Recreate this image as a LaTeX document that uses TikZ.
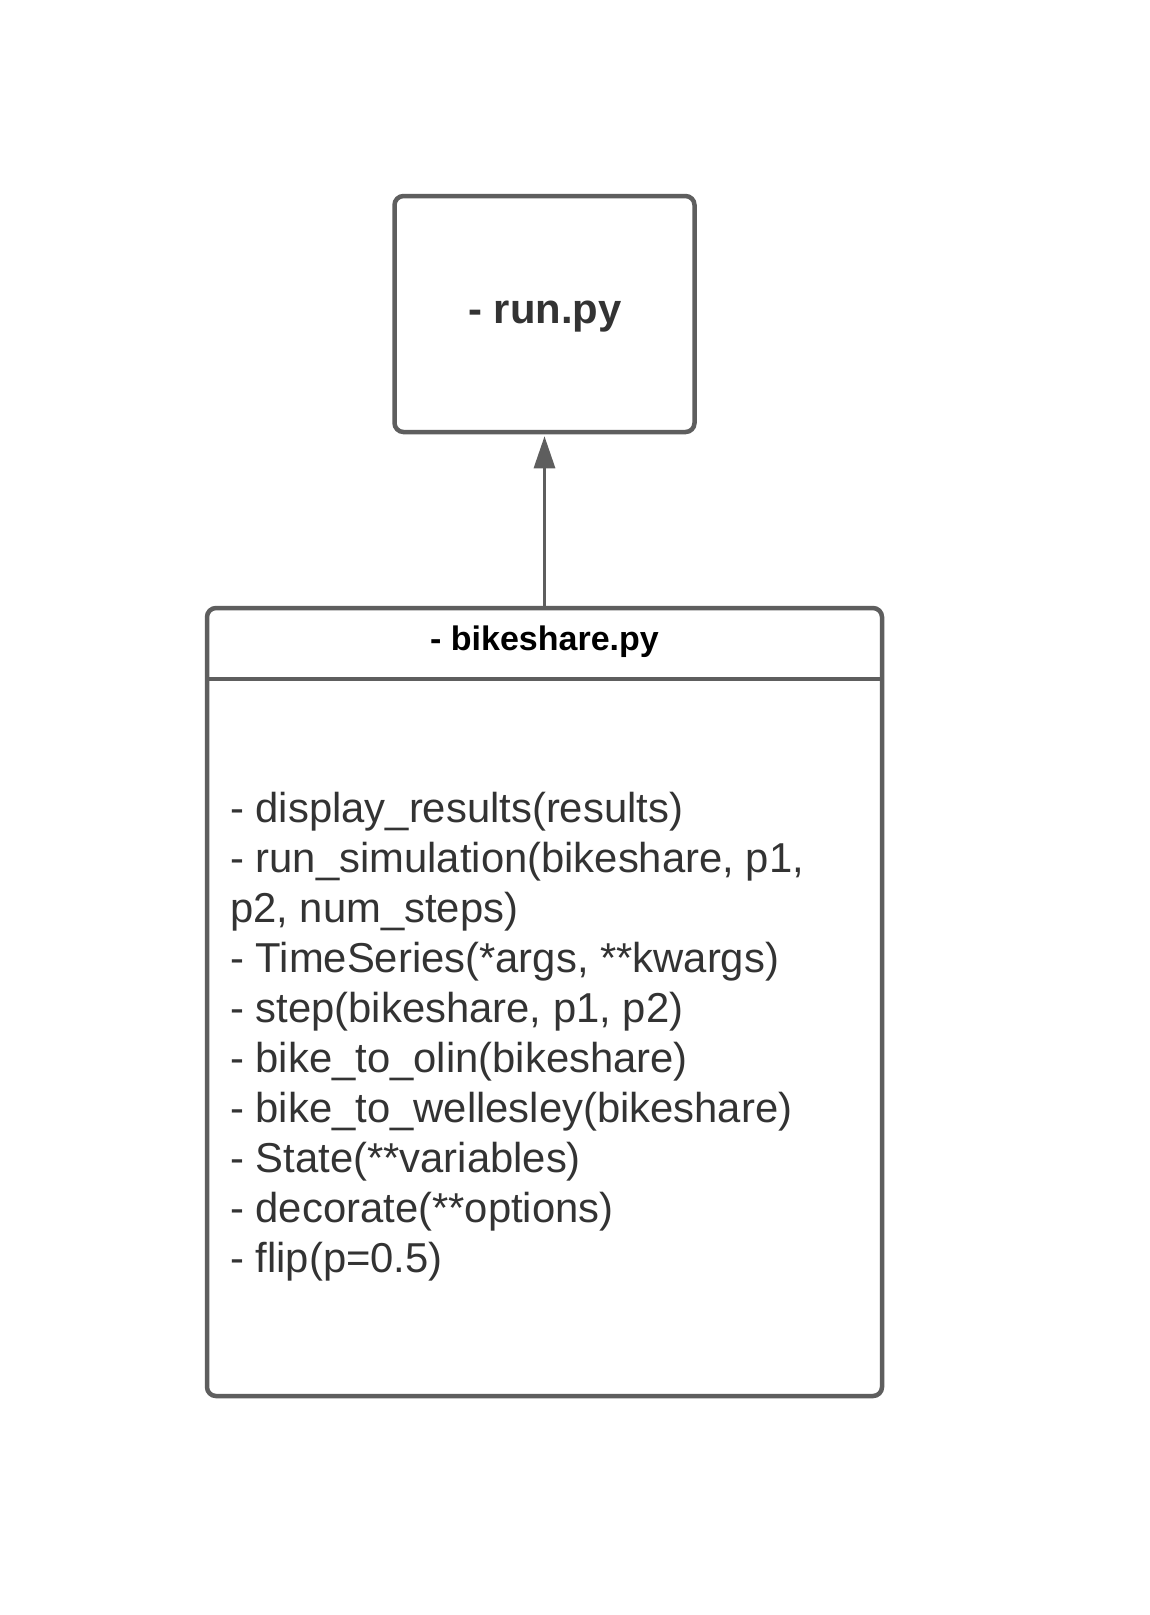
\documentclass[tikz,border=0pt]{standalone}
\usepackage{fontspec}
\setmainfont{Liberation Sans}
\usetikzlibrary{arrows.meta}
\definecolor{linec}{HTML}{5E5E5E}
\definecolor{txtc}{HTML}{333333}
\begin{document}
\begin{tikzpicture}[x=1pt,y=-1pt,
  boxstyle/.style={draw=linec, line width=4.5pt, rounded corners=9pt, fill=white, inner sep=0pt},
  bodytext/.style={anchor=base west, inner sep=0pt, text=txtc, font=\fontsize{41.8}{50}\selectfont},
  conn/.style={draw=linec, line width=3pt, -{Triangle[length=32pt,width=21pt]}}]
\useasboundingbox[fill=white] (0,0) rectangle (1150,1615);
% run.py box
\node[boxstyle, minimum width=300pt, minimum height=236pt] (run) at (544.5,314) {};
\node[anchor=base, inner sep=0pt, text=txtc, font=\fontsize{41.8}{50}\selectfont\bfseries] (runlbl) at (545,323) {- run.py};
% bikeshare box
\node[boxstyle, minimum width=675pt, minimum height=788pt] (bike) at (544.5,1002) {};
\coordinate (hl) at (207,679);
\coordinate (hr) at (882,679);
\draw[linec, line width=4.5pt] (hl) -- (hr);
\node[anchor=base, inner sep=0pt, text=black, font=\fontsize{34}{40}\selectfont\bfseries] (bikelbl) at (544.5,650) {- bikeshare.py};
% methods
\node[bodytext] (l1) at (230,822) {- display\_results(results)};
\node[bodytext] (l2) at (230,872) {- run\_simulation(bikeshare, p1,};
\node[bodytext] (l3) at (230,922) {p2, num\_steps)};
\node[bodytext] (l4) at (230,972) {- TimeSeries(*args, **kwargs)};
\node[bodytext] (l5) at (230,1022) {- step(bikeshare, p1, p2)};
\node[bodytext] (l6) at (230,1072) {- bike\_to\_olin(bikeshare)};
\node[bodytext] (l7) at (230,1122) {- bike\_to\_wellesley(bikeshare)};
\node[bodytext] (l8) at (230,1172) {- State(**variables)};
\node[bodytext] (l9) at (230,1222) {- decorate(**options)};
\node[bodytext] (l10) at (230,1272) {- flip(p=0.5)};
% connector
\draw[conn, shorten >=2pt] (bike.north) -- (run.south);
\end{tikzpicture}
\end{document}
